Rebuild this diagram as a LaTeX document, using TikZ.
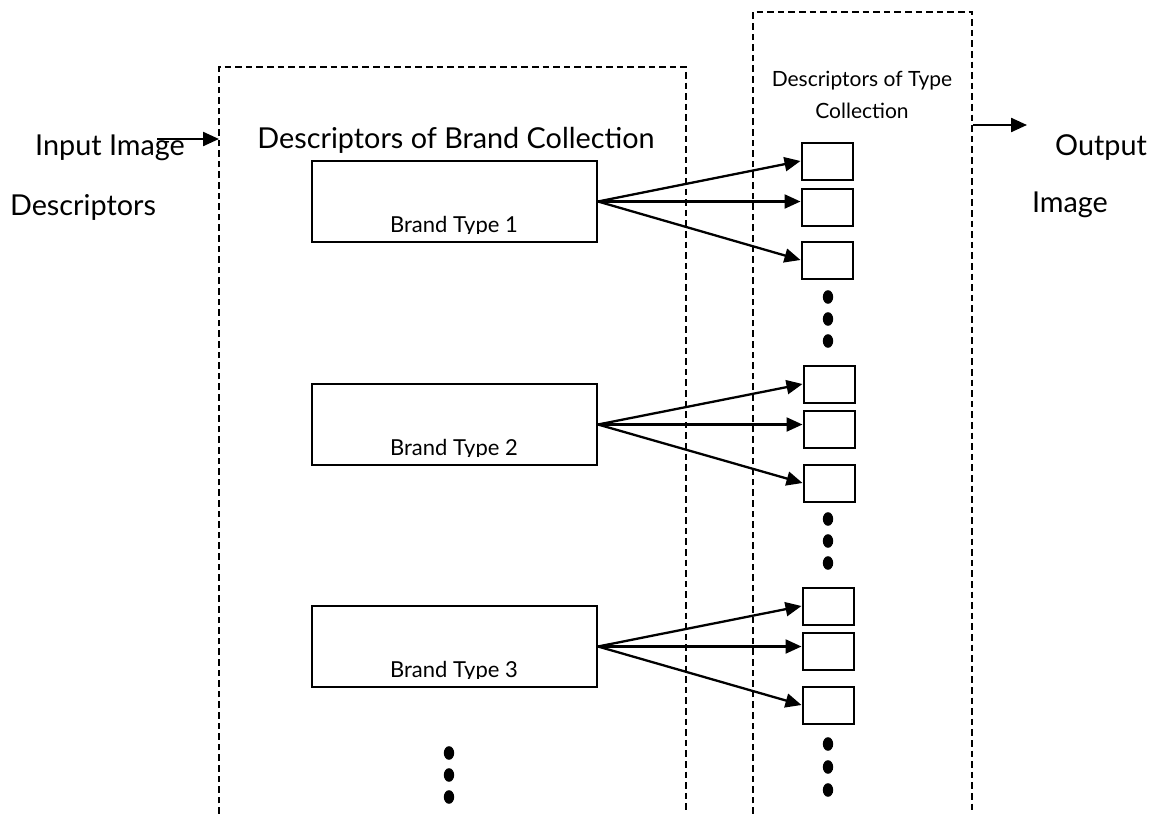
\documentclass[tikz,border=0pt]{standalone}
\usepackage{fontspec}
\setmainfont{Lato}
\usepackage{tikz}
\usetikzlibrary{arrows.meta,calc,positioning,shapes.geometric}
\newcommand{\bigtxt}{\fontsize{14.4}{17}\selectfont}
\newcommand{\smalltxt}{\fontsize{10.5}{12}\selectfont}
\newcommand{\brandtxt}{\fontsize{11}{13}\selectfont}

\begin{document}
\begin{tikzpicture}[x=0.5pt,y=-0.5pt,
    frame/.style={line width=0.85pt,dash pattern=on 3.3pt off 2pt},
    brandbox/.style={draw,line width=1pt,minimum width=142.5pt,minimum height=40.5pt,inner sep=0pt},
    typebox/.style={draw,line width=1pt,minimum width=25.5pt,minimum height=18.5pt,inner sep=0pt},
    txt/.style={anchor=base,inner sep=0pt,font=\bigtxt},
    stxt/.style={anchor=base,inner sep=0pt,font=\smalltxt},
    btxt/.style={anchor=base,inner sep=0pt,font=\brandtxt},
    dot/.style={ellipse,fill,inner sep=0pt,minimum width=5.2pt,minimum height=6.8pt},
    arr/.style={-{Triangle[length=8pt,width=7pt]},line width=1.15pt}]
    \useasboundingbox (0,0) rectangle (1157,814);
    \draw[frame] (219,814) |- (686,67) -- (686,814);
    \draw[frame] (753,814) |- (972,12) -- (972,814);
    \node[txt] (brandtitle) at (456,148) {Descriptors of Brand Collection};
    \node[stxt] (typetitle1) at (862,86) {Descriptors of Type};
    \node[stxt] (typetitle2) at (862,118) {Collection};
    \node[txt] (inlbl1) at (110,155) {Input Image};
    \node[txt] (inlbl2) at (83,215) {Descriptors};
    \node[txt] (outlbl1) at (1101,155) {Output};
    \node[txt] (outlbl2) at (1070,212) {Image};
    \coordinate (inA) at (157,139);
    \coordinate (inB) at (219,139);
    \coordinate (outA) at (973,125);
    \coordinate (outB) at (1027,125);
    \draw[arr] (inA) -- (inB);
    \draw[arr] (outA) -- (outB);
    \node[brandbox] (brand1) at (454.5,201.5) {};
    \node[brandbox] (brand2) at (454.5,424.5) {};
    \node[brandbox] (brand3) at (454.5,646.5) {};
    \begin{scope}
      \clip (brand1.north west) rectangle ([yshift=5pt]brand1.south east);
      \node[btxt] (brand1lbl) at (454,232) {Brand Type 1};
    \end{scope}
    \begin{scope}
      \clip (brand2.north west) rectangle ([yshift=5pt]brand2.south east);
      \node[btxt] (brand2lbl) at (454,455) {Brand Type 2};
    \end{scope}
    \begin{scope}
      \clip (brand3.north west) rectangle ([yshift=5pt]brand3.south east);
      \node[btxt] (brand3lbl) at (454,677) {Brand Type 3};
    \end{scope}
    \node[typebox] (type11) at (827,161) {};
    \node[typebox] (type12) at (827,207) {};
    \node[typebox] (type13) at (827,260) {};
    \node[typebox] (type21) at (829,384) {};
    \node[typebox] (type22) at (829,429) {};
    \node[typebox] (type23) at (829,483) {};
    \node[typebox] (type31) at (828,606) {};
    \node[typebox] (type32) at (828,651) {};
    \node[typebox] (type33) at (828,705) {};
    \draw[arr] (brand1.east) -- (type11.west);
    \draw[arr] (brand1.east) -- (brand1.east -| type12.west);
    \draw[arr] (brand1.east) -- (type13.west);
    \draw[arr] (brand2.east) -- (type21.west);
    \draw[arr] (brand2.east) -- (brand2.east -| type22.west);
    \draw[arr] (brand2.east) -- (type23.west);
    \draw[arr] (brand3.east) -- (type31.west);
    \draw[arr] (brand3.east) -- (brand3.east -| type32.west);
    \draw[arr] (brand3.east) -- (type33.west);
    \node[dot] (d11) at (828,297) {};
    \node[dot] (d12) at (828,319) {};
    \node[dot] (d13) at (828,341) {};
    \node[dot] (d21) at (828,519) {};
    \node[dot] (d22) at (828,541) {};
    \node[dot] (d23) at (828,563) {};
    \node[dot] (d31) at (828,744) {};
    \node[dot] (d32) at (828,767) {};
    \node[dot] (d33) at (828,790) {};
    \node[dot] (d41) at (449,753) {};
    \node[dot] (d42) at (449,775) {};
    \node[dot] (d43) at (449,797) {};
  \end{tikzpicture}
\end{document}
